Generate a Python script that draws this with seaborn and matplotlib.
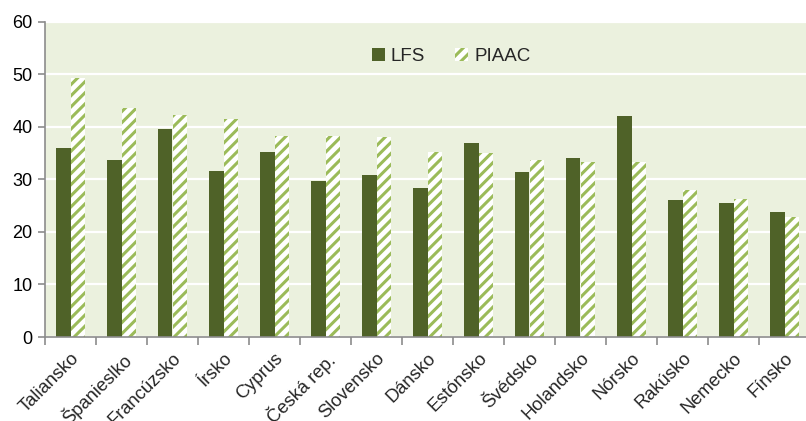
import matplotlib
matplotlib.use("Agg")
import matplotlib.pyplot as plt
import seaborn as sns
import pandas as pd
import numpy as np
from matplotlib.patches import Patch

countries = ["Taliansko", "Španieslko", "Francúzsko", "Írsko", "Cyprus", "Česká rep.",
             "Slovensko", "Dánsko", "Estónsko", "Švédsko", "Holandsko", "Nórsko",
             "Rakúsko", "Nemecko", "Fínsko"]
lfs = [36.0, 33.7, 39.5, 31.5, 35.1, 29.7, 30.9, 28.4, 36.8, 31.4, 34.0, 42.1, 26.0, 25.5, 23.8]
piaac = [49.3, 43.6, 42.3, 41.4, 38.3, 38.2, 38.0, 35.1, 35.0, 33.7, 33.2, 33.3, 27.9, 26.3, 22.8]
series = ["LFS", "PIAAC"]
yticks = [0, 10, 20, 30, 40, 50, 60]

df = pd.DataFrame({
    "country": countries * 2,
    "value": lfs + piaac,
    "series": [series[0]] * len(countries) + [series[1]] * len(countries),
})

sns.set_theme(style="white")
plt.rcParams['font.family'] = ['Liberation Sans Narrow', 'Liberation Sans', 'DejaVu Sans']
plt.rcParams['hatch.linewidth'] = 2.2

dark = "#4F6228"
light = "#9BBB59"
bg = "#EBF1DE"
grey = "#8C8C8C"

fig = plt.figure(figsize=(8.06, 4.21), dpi=100)
ax = fig.add_axes([45 / 806, (421 - 337) / 421, (810 - 45) / 806, (337 - 21.5) / 421])
ax.set_facecolor(bg)

sns.barplot(data=df, x="country", y="value", hue="series", order=countries,
            hue_order=series, palette=[dark, light], width=0.57, gap=0,
            ax=ax, legend=False, saturation=1)

for p in ax.containers[0]:
    p.set_facecolor(dark)
    p.set_edgecolor(dark)
    p.set_linewidth(0)
for p in ax.containers[1]:
    p.set_facecolor("white")
    p.set_edgecolor(light)
    p.set_hatch("///")
    p.set_linewidth(0)

ax.set_ylim(0, 60)
ax.set_xlim(-0.5, len(countries) - 0.5)
ax.set_yticks(yticks)
ax.yaxis.grid(True, color="white", linewidth=1.6)
ax.set_axisbelow(True)

for s in ["top", "right"]:
    ax.spines[s].set_visible(False)
for s in ["left", "bottom"]:
    ax.spines[s].set_color(grey)
    ax.spines[s].set_linewidth(1.2)

ax.tick_params(axis="y", which="major", direction="out", length=5, color=grey,
               width=1.2, labelsize=13, pad=4, left=True, labelcolor="black")
ax.set_xticks(range(len(countries)))
ax.set_xticklabels(countries, rotation=45, ha="right", rotation_mode="anchor", fontsize=13.2)
ax.tick_params(axis="x", which="major", length=0, pad=9)
ax.set_xticks(np.arange(-0.5, len(countries), 1), minor=True)
ax.tick_params(axis="x", which="minor", direction="out", length=6, color=grey, width=1.2,
               bottom=True)
ax.set_xlabel("")
ax.set_ylabel("")

handles = [Patch(facecolor=dark, edgecolor=dark, linewidth=0, label=series[0]),
           Patch(facecolor="white", edgecolor=light, hatch="///", linewidth=0, label=series[1])]
ax.legend(handles=handles, loc="upper center", bbox_to_anchor=(0.531, 0.97), ncol=2,
          frameon=False, fontsize=13.5, handlelength=0.7, handleheight=0.7,
          handletextpad=0.3, columnspacing=1.6)

fig.savefig("out.png", dpi=100)
